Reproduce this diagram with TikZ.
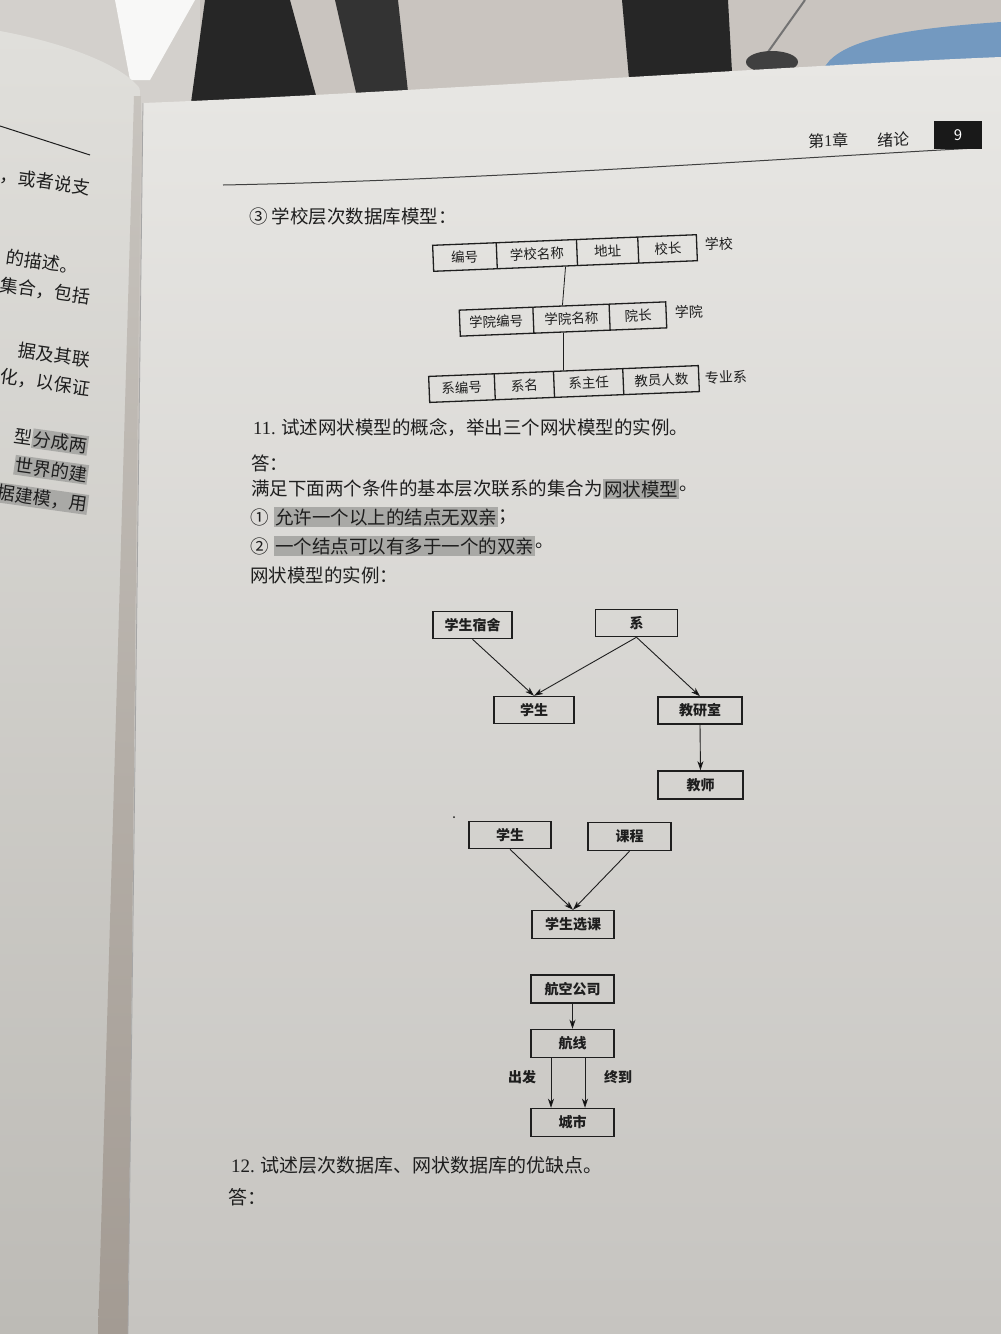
\documentclass[tikz,border=0pt]{standalone}
\usepackage{fontspec}
\setmainfont{Noto Sans CJK SC}
\newfontfamily\lat{Liberation Serif}
\usetikzlibrary{arrows.meta,shapes.multipart}
\definecolor{ink}{HTML}{1E1E1E}
\definecolor{hlgray}{HTML}{A9A9A6}
\definecolor{wall}{HTML}{C9C4BF}
\definecolor{wallL}{HTML}{D3D0CC}
\definecolor{pgTop}{HTML}{E8E7E4}
\definecolor{pgMid}{HTML}{D5D4D0}
\definecolor{pgBot}{HTML}{C6C4C0}
\definecolor{lpTop}{HTML}{E0DFDB}
\definecolor{lpBot}{HTML}{BDBBB6}
\definecolor{gutter}{HTML}{A39B93}
\definecolor{cloth}{HTML}{7399C0}
\newcommand\cellx[2]{\makebox[#1pt]{\rule[-8pt]{0pt}{26pt}#2}}
\begin{document}
\begin{tikzpicture}[x=1pt,y=-1pt,
  txt/.style={anchor=west, inner sep=0pt, text=ink, font=\fontsize{18.5}{20}\selectfont},
  hl/.style={fill=hlgray, inner xsep=1pt, inner ysep=1.5pt},
  lft/.style={rotate=-8, anchor=east, inner sep=0pt, text=ink, font=\fontsize{18}{18}\selectfont},
  box/.style={draw=ink, line width=1.5pt, minimum width=82pt, minimum height=27pt, inner sep=0pt, text=ink, font=\bfseries\fontsize{14}{14}\selectfont},
  lbl/.style={inner sep=0pt, text=ink, font=\bfseries\fontsize{14}{14}\selectfont},
  arr/.style={draw=ink, line width=0.9pt, -{Stealth[length=9pt,width=6pt,inset=2.5pt]}},
  rec/.style={draw=ink, line width=1.3pt, rectangle split, rectangle split horizontal, rectangle split parts=#1, inner xsep=0pt, inner ysep=0pt, rotate=2.3, text=ink, font=\fontsize{13.5}{14}\selectfont},
  reclbl/.style={inner sep=0pt, rotate=2.3, text=ink, font=\fontsize{14}{14}\selectfont}
]
\useasboundingbox (0,0) rectangle (1001,1334);
\clip (0,0) rectangle (1001,1334);
% ---- background scene ----
\fill[wall] (0,0) rectangle (1001,1334);
\fill[wallL] (0,0) rectangle (200,120);
\fill[white!85!wallL] (115,0) -- (195,0) -- (150,80) -- (130,80) -- cycle;
\fill[black!85] (205,0) -- (290,0) -- (320,110) -- (190,110) -- cycle;
\fill[black!80] (335,0) -- (398,0) -- (410,110) -- (360,110) -- cycle;
\fill[black!85] (622,0) -- (728,0) -- (733,90) -- (630,90) -- cycle;
\draw[black!55, line width=2pt] (805,0) -- (768,52);
\fill[black!75] (772,62) ellipse [x radius=26, y radius=11];
\fill[cloth] (823,70) .. controls (835,45) and (880,30) .. (1001,22) -- (1001,70) -- cycle;
% ---- pages ----
\shade[top color=lpTop, bottom color=lpBot] (0,31) .. controls (60,42) and (115,62) .. (136,84) .. controls (140,88) .. (140,96) -- (130,1334) -- (0,1334) -- cycle;
\shade[top color=lpTop!60!gutter, bottom color=gutter] (134,96) -- (141,96) -- (128,1334) -- (98,1334) -- cycle;
\shade[top color=pgTop, middle color=pgMid, bottom color=pgBot] (143,103) .. controls (400,93) and (800,65) .. (1001,57) -- (1001,1334) -- (128,1334) -- cycle;
\draw[black!35, line width=0.8pt] (143,103) -- (128,1334);
% ---- left page ----
\draw[ink, line width=1pt] (0,126) -- (90,155);
\node[lft] (p1) at (90,188) {，或者说支};
\node[lft] (p2) at (78,267) {的描述。};
\node[lft] (p3) at (90,297) {集合，包括};
\node[lft] (p4) at (90,360) {据及其联};
\node[lft] (p5) at (90,389) {化，以保证};
\node[lft, hl] (p6b) at (88,446) {分成两};
\node[lft] (p6a) at (p6b.west) {型};
\node[lft, hl] (p7) at (88,475) {世界的建};
\node[lft, hl] (p8) at (88,505) {据建模，用};
% ---- header ----
\draw[ink!85, line width=1pt] (223,185) .. controls (480,180) and (760,160) .. (976,148);
\node[txt, rotate=1.5, font=\fontsize{16}{16}\selectfont] (hd1) at (808,141) {第{\lat 1}章};
\node[txt, rotate=1.5, font=\fontsize{16}{16}\selectfont] (hd2) at (877,140) {绪论};
\node[fill=black!90, minimum width=48pt, minimum height=28pt, inner sep=0pt, text=white, font=\fontsize{15}{15}\selectfont] (pg) at (958,135) {9};
% ---- hierarchical model ----
\node[txt] (t3) at (249,216) {③ 学校层次数据库模型：};
\node[rec=4] (school) at (565,253) {\cellx{63}{编号}\nodepart{two}\cellx{79}{学校名称}\nodepart{three}\cellx{60}{地址}\nodepart{four}\cellx{58}{校长}};
\node[rec=3] (college) at (563,319) {\cellx{73}{学院编号}\nodepart{two}\cellx{75}{学院名称}\nodepart{three}\cellx{56}{院长}};
\node[rec=4] (dept) at (564,384) {\cellx{65}{系编号}\nodepart{two}\cellx{58}{系名}\nodepart{three}\cellx{68}{系主任}\nodepart{four}\cellx{75}{教员人数}};
\node[reclbl] (lschool) at (719,244) {学校};
\node[reclbl] (lcollege) at (689,312) {学院};
\node[reclbl] (ldept) at (726,377) {专业系};
\draw[ink, line width=0.8pt] (school.south) -- (college.north);
\draw[ink, line width=0.8pt] (college.south) -- (dept.north);
% ---- question 11 ----
\node[txt] (q11) at (253,428) {{\lat 11.} 试述网状模型的概念，举出三个网状模型的实例。};
\node[txt] (a11) at (251,463) {答：};
\node[txt] (m1) at (251,489) {满足下面两个条件的基本层次联系的集合为};
\node[txt, hl] (m2) at (m1.east) {网状模型};
\node[txt] (m3) at (m2.east) {。};
\node[txt] (c1a) at (250,517) {①};
\node[txt, hl] (c1b) at (274,517) {允许一个以上的结点无双亲};
\node[txt] (c1c) at (c1b.east) {；};
\node[txt] (c2a) at (250,546) {②};
\node[txt, hl] (c2b) at (274,546) {一个结点可以有多于一个的双亲};
\node[txt] (c2c) at (c2b.east) {。};
\node[txt] (ex) at (250,575) {网状模型的实例：};
% ---- network 1 ----
\node[box, minimum width=79pt] (ds) at (472.5,625) {学生宿舍};
\node[box] (xi) at (636.5,623) {系};
\node[box, minimum width=80pt] (st) at (534,710) {学生};
\node[box, minimum width=84pt] (jys) at (700,710.5) {教研室};
\node[box, minimum width=85pt, minimum height=28pt] (js) at (700.5,785) {教师};
\draw[arr] (ds.south) -- (st.north);
\draw[arr] (xi.south) -- (st.north);
\draw[arr] (xi.south) -- (jys.north);
\draw[arr] (jys.south) -- (js.north);
% ---- network 2 ----
\fill[ink] (454,817) circle (1pt);
\node[box] (st2) at (510,835) {学生};
\node[box, minimum width=83pt, minimum height=28pt] (kc) at (629.5,836.5) {课程};
\node[box, minimum height=28pt] (xk) at (573,924.5) {学生选课};
\draw[arr] (st2.south) -- (xk.north);
\draw[arr] (kc.south) -- (xk.north);
% ---- network 3 ----
\node[box, minimum width=83pt, minimum height=28pt] (hk) at (572.5,989) {航空公司};
\node[box, minimum width=83pt, minimum height=28pt] (hx) at (572.5,1043.5) {航线};
\node[box, minimum width=83pt, minimum height=28pt] (cs) at (572.5,1122.5) {城市};
\draw[arr] (hk.south) -- (hx.north);
\draw[arr] ([xshift=-21.5pt]hx.south) -- ([xshift=-21.5pt]cs.north);
\draw[arr] ([xshift=12.5pt]hx.south) -- ([xshift=12.5pt]cs.north);
\node[lbl] (dep) at (522,1077) {出发};
\node[lbl] (arv) at (618,1077) {终到};
% ---- question 12 ----
\node[txt, font=\fontsize{19}{20}\selectfont] (q12) at (231,1165) {{\lat 12.} 试述层次数据库、网状数据库的优缺点。};
\node[txt, font=\fontsize{19}{20}\selectfont] (a12) at (228,1197) {答：};
\end{tikzpicture}
\end{document}
